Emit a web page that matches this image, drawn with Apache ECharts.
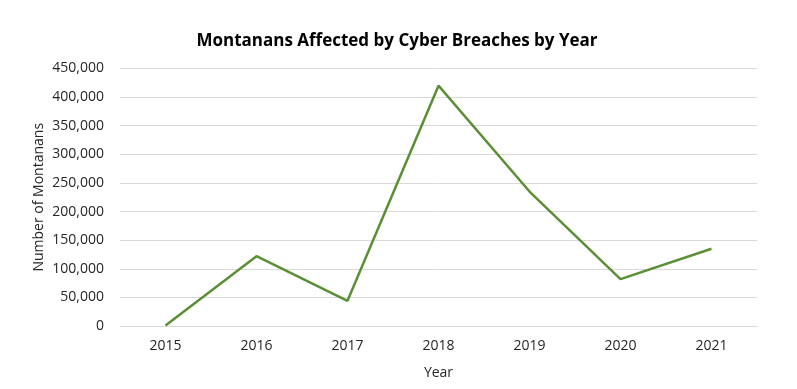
<!DOCTYPE html>
<html><head><meta charset="utf-8">
<script src="https://cdn.jsdelivr.net/npm/echarts@6/dist/echarts.min.js"></script>
<style>html,body{margin:0;padding:0;background:#fff}#c{width:797px;height:389px}</style>
</head><body><div id="c"></div>
<script>
const years = ['2015','2016','2017','2018','2019','2020','2021'];
const affected = [1000, 122000, 44000, 420000, 235000, 82000, 135000];
const yTicks = [0, 50000, 100000, 150000, 200000, 250000, 300000, 350000, 400000, 450000];

const chart = echarts.init(document.getElementById('c'), null, {renderer:'canvas'});
const font = '"Open Sans", "Noto Sans", sans-serif';
chart.setOption({
  animation:false,
  title:{text:'Montanans Affected by Cyber Breaches by Year', left:392, textAlign:'center', top:28,
    textStyle:{fontFamily:font, fontSize:17, fontWeight:'bold', color:'#000'}},
  grid:{left:120, right:40, top:68.5, bottom:63},
  xAxis:{type:'category', data:years, boundaryGap:true,
    name:'Year', nameLocation:'middle', nameGap:40, nameMoveOverlap:false,
    nameTextStyle:{fontFamily:font, fontSize:14, color:'#262626'},
    axisLine:{show:true, lineStyle:{color:'#d9d9d9', width:1}},
    axisTick:{show:false},
    axisLabel:{fontFamily:font, fontSize:14, color:'#262626', margin:13}},
  yAxis:{type:'value', min:yTicks[0], max:yTicks[yTicks.length-1], interval:50000,
    name:'Number of Montanans', nameLocation:'middle', nameGap:74, nameMoveOverlap:false,
    nameTextStyle:{fontFamily:font, fontSize:14, color:'#262626'},
    axisLine:{show:false}, axisTick:{show:false},
    splitLine:{lineStyle:{color:'#d9d9d9', width:1}},
    axisLabel:{fontFamily:font, fontSize:14, color:'#262626', margin:16,
      formatter:v=>v.toLocaleString('en-US')}},
  series:[{type:'line', data:affected, symbol:'none',
    lineStyle:{color:'#5b8f35', width:2.5}}]
});
</script></body></html>
